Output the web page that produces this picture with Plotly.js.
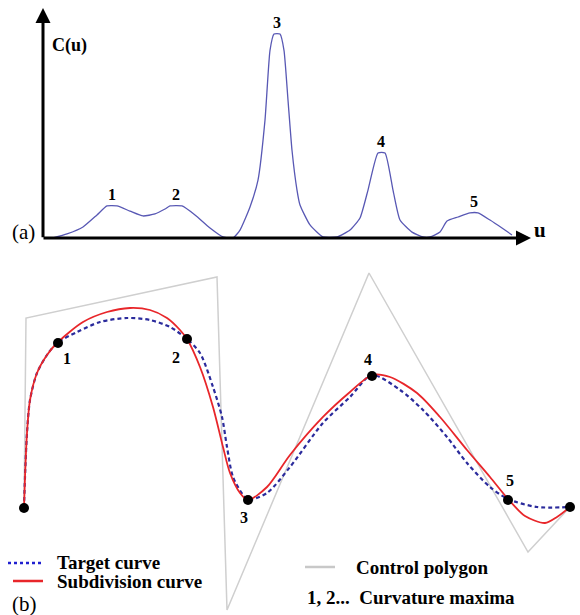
<!DOCTYPE html>
<html>
<head>
<meta charset="utf-8">
<script src="https://cdn.plot.ly/plotly-3.0.1.min.js"></script>
<style>html,body{margin:0;padding:0;background:#fff;}#chart{width:580px;height:615px;}</style>
</head>
<body>
<div id="chart"></div>
<script>
// ---- Panel (a): curvature C(u) ----
var u = [53, 67, 83, 97, 107, 117, 130, 143, 155, 165, 170, 182, 195, 210, 223, 233,
         240, 250, 258, 265, 270, 274, 280, 284, 288, 292, 297, 300, 310, 323, 337,
         350, 360, 368, 378, 385, 393, 400, 412, 423, 430,
         440, 447, 458, 470, 478, 490, 502, 512];
var cu = [0.00, 0.02, 0.054, 0.113, 0.157, 0.157, 0.132, 0.108, 0.118, 0.142, 0.157, 0.157, 0.113, 0.049, 0.005, 0.0,
          0.039, 0.152, 0.284, 0.578, 0.92, 1.0, 1.0, 0.92, 0.676, 0.43, 0.235, 0.162, 0.064, 0.005, 0.005,
          0.039, 0.098, 0.235, 0.417, 0.417, 0.235, 0.088, 0.029, 0.005, 0.005,
          0.029, 0.083, 0.103, 0.123, 0.123, 0.088, 0.049, 0.015];
var peakU = [112, 176, 277, 381, 474];
var peakC = [0.157, 0.157, 1.0, 0.417, 0.123];
var peakLabels = ['1', '2', '3', '4', '5'];

// ---- Panel (b): curves ----
var polyX = [24, 26, 217, 227, 369, 528, 570];
var polyY = [107, 297, 338, 5, 342, 63, 108];

var targetX = [24, 25, 27, 30, 37, 47, 57, 77, 100, 127, 150, 170, 187, 200, 213, 222, 227, 233, 243, 248,
               267, 290, 323, 350, 372, 400, 423, 447, 467, 490, 508, 537, 570];
var targetY = [107, 138, 182, 215, 242, 260, 272, 283, 293, 297, 295, 288, 276, 262, 228, 198, 168, 138, 120, 115,
               122, 148, 192, 218, 240, 225, 205, 178, 152, 128, 116, 108, 108];

var subX = [24, 25, 27, 30, 37, 47, 57, 83, 107, 130, 150, 167, 180, 187, 200, 213, 223, 230, 240, 248,
            267, 290, 323, 350, 372, 390, 417, 440, 467, 490, 508, 525, 545, 557, 570];
var subY = [107, 138, 182, 215, 242, 260, 272, 293, 303, 307, 305, 297, 285, 276, 248, 208, 168, 142, 122, 115,
            128, 160, 198, 223, 240, 238, 222, 198, 165, 138, 116, 99, 92, 98, 108];

var maxX = [24, 58, 187, 248, 372, 508, 570];
var maxY = [107, 272, 276, 115, 239, 115, 108];
var maxLabelIdx = [1, 2, 3, 4, 5];
var maxLabels = ['1', '2', '3', '4', '5'];
var maxLabelShift = [[9, -16], [-11, -19], [-4, -18], [-4, 16], [2, 19]];

var legendNames = ['Target curve', 'Subdivision curve', 'Control polygon', '1, 2...  Curvature maxima'];

var FAM = "'Liberation Serif', 'Times New Roman', Times, serif";
var serifB = {family: FAM, size: 19, color: '#000'};
var serif = {family: FAM, size: 21, color: '#000'};

var traces = [
  {x: u, y: cu, xaxis: 'x', yaxis: 'y', mode: 'lines', type: 'scatter',
   line: {color: '#5858b4', width: 1.3, shape: 'spline', smoothing: 0.5}, hoverinfo: 'skip'},
  {x: polyX, y: polyY, xaxis: 'x2', yaxis: 'y2', mode: 'lines', type: 'scatter',
   line: {color: '#cfcfcf', width: 1.5}, name: legendNames[2]},
  {x: targetX, y: targetY, xaxis: 'x2', yaxis: 'y2', mode: 'lines', type: 'scatter',
   line: {color: '#2b2b9c', width: 2.2, dash: '4px,3px', shape: 'spline', smoothing: 0.8}, name: legendNames[0]},
  {x: subX, y: subY, xaxis: 'x2', yaxis: 'y2', mode: 'lines', type: 'scatter',
   line: {color: '#e8262a', width: 1.8, shape: 'spline', smoothing: 0.8}, name: legendNames[1]},
  {x: maxX, y: maxY, xaxis: 'x2', yaxis: 'y2', mode: 'markers', type: 'scatter',
   marker: {color: '#000', size: 10}, name: legendNames[3]}
];

var ann = [];
// axes arrows (panel a)
ann.push({xref: 'x', yref: 'y', axref: 'x', ayref: 'y', x: 43, y: 1.127, ax: 43, ay: -0.004,
          showarrow: true, arrowhead: 2, arrowsize: 1, arrowwidth: 3, arrowcolor: '#000', text: ''});
ann.push({xref: 'x', yref: 'y', axref: 'x', ayref: 'y', x: 531, y: 0, ax: 42, ay: 0,
          showarrow: true, arrowhead: 2, arrowsize: 1, arrowwidth: 3, arrowcolor: '#000', text: ''});
ann.push({xref: 'x', yref: 'y', x: 50, y: 0.944, text: '<b>C(u)</b>', showarrow: false,
          xanchor: 'left', yanchor: 'middle', font: {family: FAM, size: 18, color: '#000'}});
ann.push({xref: 'x', yref: 'y', x: 540, y: 0.039, text: '<b>u</b>', showarrow: false,
          xanchor: 'center', yanchor: 'middle', font: {family: FAM, size: 21, color: '#000'}});
ann.push({xref: 'x', yref: 'y', x: 10, y: 0.029, text: '(a)', showarrow: false,
          xanchor: 'left', yanchor: 'middle', font: serif});
for (var i = 0; i < peakU.length; i++) {
  ann.push({xref: 'x', yref: 'y', x: peakU[i], y: peakC[i], text: '<b>' + peakLabels[i] + '</b>',
            showarrow: false, xanchor: 'center', yanchor: 'bottom', yshift: 1,
            font: {family: FAM, size: 16, color: '#000'}});
}
// maxima labels (panel b)
for (var j = 0; j < maxLabels.length; j++) {
  var k = maxLabelIdx[j];
  ann.push({xref: 'x2', yref: 'y2', x: maxX[k], y: maxY[k], text: '<b>' + maxLabels[j] + '</b>',
            showarrow: false, xanchor: 'center', yanchor: 'middle',
            xshift: maxLabelShift[j][0], yshift: maxLabelShift[j][1],
            font: {family: FAM, size: 16, color: '#000'}});
}
// legend texts
ann.push({xref: 'x2', yref: 'y2', x: 55, y: 52, text: '<b>' + legendNames[0] + '</b>', showarrow: false,
          xanchor: 'left', yanchor: 'middle', font: serifB});
ann.push({xref: 'x2', yref: 'y2', x: 55, y: 33, text: '<b>' + legendNames[1] + '</b>', showarrow: false,
          xanchor: 'left', yanchor: 'middle', font: serifB});
ann.push({xref: 'x2', yref: 'y2', x: 354, y: 47, text: '<b>' + legendNames[2] + '</b>', showarrow: false,
          xanchor: 'left', yanchor: 'middle', font: serifB});
ann.push({xref: 'x2', yref: 'y2', x: 305, y: 17, text: '<b>' + legendNames[3] + '</b>', showarrow: false,
          xanchor: 'left', yanchor: 'middle', font: serifB});
ann.push({xref: 'x2', yref: 'y2', x: 10, y: 11, text: '(b)', showarrow: false,
          xanchor: 'left', yanchor: 'middle', font: serif});

var shapes = [
  {type: 'line', xref: 'x2', yref: 'y2', x0: 8, x1: 44, y0: 52, y1: 52,
   line: {color: '#2020d0', width: 2.5, dash: '3px,3px'}},
  {type: 'line', xref: 'x2', yref: 'y2', x0: 13, x1: 43, y0: 34, y1: 34,
   line: {color: '#e8262a', width: 2.5}},
  {type: 'line', xref: 'x2', yref: 'y2', x0: 305, x1: 335, y0: 48, y1: 48,
   line: {color: '#c8c8c8', width: 2.5}}
];

var layout = {
  width: 580, height: 615,
  margin: {l: 0, r: 0, t: 0, b: 0},
  paper_bgcolor: '#fff', plot_bgcolor: 'rgba(0,0,0,0)',
  showlegend: false,
  xaxis: {domain: [0, 1], range: [0, 580], visible: false, anchor: 'y', fixedrange: true},
  yaxis: {domain: [0.5935, 1], range: [-0.0588, 1.1667], visible: false, anchor: 'x', fixedrange: true},
  xaxis2: {domain: [0, 1], range: [0, 580], visible: false, anchor: 'y2', fixedrange: true},
  yaxis2: {domain: [0, 0.5935], range: [0, 365], visible: false, anchor: 'x2', fixedrange: true},
  annotations: ann,
  shapes: shapes
};

Plotly.newPlot('chart', traces, layout, {staticPlot: true, displayModeBar: false});
</script>
</body>
</html>
